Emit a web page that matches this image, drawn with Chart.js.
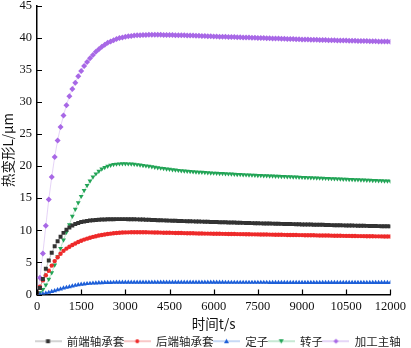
<!DOCTYPE html>
<html><head><meta charset="utf-8">
<script src="https://cdn.jsdelivr.net/npm/chart.js@4/dist/chart.umd.min.js"></script>
<style>html,body{margin:0;padding:0;background:#fff}#wrap{width:411px;height:348px}</style>
</head><body><div id="wrap"><canvas id="c" width="411" height="348"></canvas></div>
<script>
const times = [0,100,200,300,400,500,600,700,800,900,
1000,1100,1200,1300,1400,1500,1600,1700,1800,1900,
2000,2100,2200,2300,2400,2500,2600,2700,2800,2900,
3000,3100,3200,3300,3400,3500,3600,3700,3800,3900,
4000,4100,4200,4300,4400,4500,4600,4700,4800,4900,
5000,5100,5200,5300,5400,5500,5600,5700,5800,5900,
6000,6100,6200,6300,6400,6500,6600,6700,6800,6900,
7000,7100,7200,7300,7400,7500,7600,7700,7800,7900,
8000,8100,8200,8300,8400,8500,8600,8700,8800,8900,
9000,9100,9200,9300,9400,9500,9600,9700,9800,9900,
10000,10100,10200,10300,10400,10500,10600,10700,10800,10900,
11000,11100,11200,11300,11400,11500,11600,11700,11800,11900,
12000];

const seriesNames = ['前端轴承套','后端轴承套','定子','转子','加工主轴'];

const frontBearing = [0.2,1.0,2.4,4.0,5.3,6.5,7.5,8.3,9.0,9.6,
10.1,10.45,10.75,10.98,11.15,11.28,11.38,11.46,11.52,11.57,
11.61,11.64,11.67,11.69,11.71,11.72,11.73,11.74,11.74,11.74,
11.74,11.73,11.72,11.71,11.7,11.68,11.67,11.65,11.63,11.62,
11.6,11.58,11.56,11.55,11.53,11.51,11.5,11.48,11.46,11.45,
11.43,11.42,11.4,11.39,11.37,11.36,11.35,11.33,11.32,11.3,
11.29,11.28,11.26,11.25,11.24,11.22,11.21,11.2,11.19,11.17,
11.16,11.15,11.13,11.12,11.11,11.1,11.08,11.07,11.06,11.05,
11.04,11.03,11.01,11.0,10.99,10.98,10.97,10.96,10.95,10.93,
10.92,10.91,10.9,10.89,10.88,10.87,10.86,10.85,10.83,10.82,
10.81,10.8,10.79,10.78,10.77,10.76,10.75,10.74,10.73,10.72,
10.71,10.7,10.69,10.68,10.67,10.66,10.65,10.64,10.63,10.62,
10.61];

const rearBearing = [0.3,1.2,2.2,3.0,3.7,4.5,5.2,5.8,6.35,6.8,
7.15,7.45,7.7,7.95,8.17,8.37,8.55,8.7,8.85,8.97,
9.08,9.18,9.27,9.35,9.42,9.48,9.53,9.58,9.62,9.65,
9.67,9.68,9.69,9.7,9.7,9.7,9.69,9.69,9.68,9.67,
9.66,9.65,9.64,9.63,9.62,9.61,9.6,9.59,9.58,9.57,
9.56,9.55,9.54,9.53,9.52,9.51,9.5,9.49,9.49,9.48,
9.47,9.46,9.46,9.45,9.44,9.43,9.43,9.42,9.41,9.4,
9.4,9.39,9.38,9.37,9.37,9.36,9.35,9.34,9.34,9.33,
9.32,9.31,9.31,9.3,9.29,9.28,9.28,9.27,9.26,9.25,
9.25,9.24,9.23,9.22,9.22,9.21,9.2,9.19,9.19,9.18,
9.17,9.16,9.16,9.15,9.14,9.13,9.13,9.12,9.11,9.1,
9.1,9.09,9.08,9.08,9.07,9.06,9.06,9.05,9.04,9.04,
9.03];

const stator = [0,0.03,0.1,0.2,0.32,0.45,0.58,0.72,0.86,0.99,
1.1,1.21,1.31,1.41,1.5,1.57,1.63,1.68,1.72,1.76,
1.79,1.81,1.83,1.85,1.86,1.87,1.88,1.89,1.89,1.9,
1.9,1.9,1.9,1.9,1.9,1.9,1.9,1.9,1.9,1.9,
1.9,1.9,1.9,1.9,1.9,1.9,1.9,1.9,1.9,1.9,
1.9,1.89,1.89,1.89,1.89,1.89,1.89,1.89,1.89,1.89,
1.89,1.89,1.89,1.89,1.88,1.88,1.88,1.88,1.88,1.88,
1.88,1.88,1.88,1.88,1.88,1.88,1.88,1.88,1.88,1.87,
1.87,1.87,1.87,1.87,1.87,1.87,1.87,1.87,1.87,1.87,
1.87,1.87,1.87,1.87,1.87,1.87,1.86,1.86,1.86,1.86,
1.86,1.86,1.86,1.86,1.86,1.86,1.86,1.86,1.86,1.86,
1.86,1.86,1.86,1.86,1.86,1.86,1.86,1.86,1.86,1.86,
1.86];

const rotor = [0,0.3,0.8,1.5,2.4,3.4,4.6,5.9,7.2,8.5,
9.7,10.9,12.2,13.3,14.3,15.3,16.2,17.0,17.7,18.3,
18.8,19.2,19.55,19.8,20.0,20.15,20.25,20.32,20.36,20.38,
20.38,20.36,20.33,20.29,20.24,20.18,20.12,20.05,19.98,19.91,
19.84,19.77,19.7,19.63,19.57,19.51,19.45,19.4,19.35,19.3,
19.26,19.22,19.18,19.14,19.1,19.07,19.04,19.01,18.98,18.95,
18.92,18.9,18.87,18.85,18.82,18.8,18.77,18.75,18.72,18.7,
18.68,18.65,18.63,18.61,18.59,18.56,18.54,18.52,18.5,18.48,
18.46,18.44,18.42,18.4,18.38,18.36,18.34,18.32,18.3,18.28,
18.26,18.24,18.22,18.2,18.18,18.16,18.14,18.12,18.1,18.08,
18.06,18.04,18.02,18.0,17.98,17.96,17.94,17.92,17.9,17.88,
17.86,17.84,17.82,17.8,17.78,17.76,17.74,17.72,17.7,17.68,
17.66];

const spindle = [0,2.6,6.4,10.7,14.8,18.3,21.4,24.0,26.1,27.9,
29.5,30.9,32.0,33.0,34.0,34.8,35.6,36.2,36.8,37.3,
37.8,38.2,38.6,38.9,39.2,39.4,39.6,39.8,39.95,40.05,
40.15,40.22,40.28,40.33,40.37,40.4,40.42,40.44,40.45,40.45,
40.45,40.45,40.45,40.44,40.43,40.42,40.41,40.4,40.39,40.38,
40.37,40.36,40.34,40.33,40.31,40.3,40.28,40.26,40.24,40.22,
40.2,40.19,40.17,40.16,40.14,40.13,40.11,40.1,40.08,40.06,
40.05,40.03,40.02,40.0,39.98,39.97,39.95,39.94,39.92,39.91,
39.89,39.88,39.86,39.85,39.83,39.82,39.8,39.79,39.77,39.76,
39.74,39.73,39.72,39.7,39.69,39.68,39.66,39.65,39.64,39.62,
39.61,39.6,39.58,39.57,39.56,39.55,39.54,39.52,39.51,39.5,
39.49,39.48,39.47,39.46,39.45,39.44,39.43,39.42,39.41,39.4,
39.39];

const xTicks = [0,1500,3000,4500,6000,7500,9000,10500,12000];
const yTicks = [0,5,10,15,20,25,30,35,40,45];

const allSeries = [frontBearing, rearBearing, stator, rotor, spindle];
const markerColors = ['#333333','#ee2a2a','#1d5fd8','#22a456','#a868e6'];
const lineColors = ['rgba(120,120,120,0.45)','rgba(240,60,60,0.35)','rgba(40,100,220,0.3)','rgba(40,170,90,0.3)','rgba(170,110,230,0.3)'];
const iconLineColors = ['#c4c4c4','#f6b4b4','#b4cdf2','#b4e2c6','#ddc8f4'];
const pStyles = ['rect','circle','triangle','triangle','rectRot'];
const pRot = [0,0,0,180,0];
const pRad = [2.8,2.2,2.8,2.8,3];
const SERIF = '"Liberation Serif", "Times New Roman", "DejaVu Serif", serif';
const CJK = '"Noto Sans CJK SC", "Noto Sans", sans-serif';

function legendIcon(i){
  const W = 27;
  const c = document.createElement('canvas');
  c.width = W; c.height = 8;
  const g = c.getContext('2d');
  g.strokeStyle = iconLineColors[i];
  g.lineWidth = 1.5;
  g.beginPath(); g.moveTo(0,4); g.lineTo(W,4); g.stroke();
  g.fillStyle = markerColors[i];
  const cx = W/2, cy = 4;
  g.beginPath();
  if (i===0) g.rect(cx-2,cy-2,4,4);
  else if (i===1) g.arc(cx,cy,2,0,Math.PI*2);
  else if (i===2){ g.moveTo(cx,cy-2.5); g.lineTo(cx+2.5,cy+2); g.lineTo(cx-2.5,cy+2); g.closePath(); }
  else if (i===3){ g.moveTo(cx,cy+2.5); g.lineTo(cx+2.5,cy-2); g.lineTo(cx-2.5,cy-2); g.closePath(); }
  else { g.moveTo(cx,cy-2.5); g.lineTo(cx+2.5,cy); g.lineTo(cx,cy+2.5); g.lineTo(cx-2.5,cy); g.closePath(); }
  g.fill();
  return c;
}

const datasets = allSeries.map((arr,i)=>({
  label: seriesNames[i],
  data: arr.map((v,k)=>({x: times[k], y: v})),
  borderColor: lineColors[i],
  borderWidth: 1,
  backgroundColor: markerColors[i],
  pointBackgroundColor: markerColors[i],
  pointBorderColor: markerColors[i],
  pointBorderWidth: 0,
  pointStyle: pStyles[i],
  rotation: pRot[i],
  pointRadius: pRad[i],
  tension: 0,
  fill: false
}));
const icons = allSeries.map((a,i)=>legendIcon(i));

const inwardTicks = {
  id: 'inwardTicks',
  afterDraw(chart){
    const ctx = chart.ctx, ca = chart.chartArea;
    const xs = chart.scales.x, ys = chart.scales.y;
    ctx.save();
    ctx.strokeStyle = '#000'; ctx.lineWidth = 1.2;
    ctx.beginPath();
    xs.ticks.forEach(t=>{ const px = Math.round(xs.getPixelForValue(t.value))+0.5; ctx.moveTo(px, ca.bottom); ctx.lineTo(px, ca.bottom-5); });
    ys.ticks.forEach(t=>{ const py = Math.round(ys.getPixelForValue(t.value))+0.5; ctx.moveTo(ca.left, py); ctx.lineTo(ca.left+5, py); });
    ctx.stroke();
    ctx.restore();
  }
};
const legendPlace = {
  id: 'legendPlace',
  afterInit(chart){
    const lg = chart.legend;
    if (lg && !lg._wideFit){
      const orig = lg.update.bind(lg);
      lg.update = (w, h, m) => orig(Math.max(w, chart.width), h, m);
      lg._wideFit = true;
    }
  },
  beforeDraw(chart){
    const lg = chart.legend;
    const lw = lg.lineWidths && lg.lineWidths[0] ? lg.lineWidths[0] : 366;
    lg.right = chart.width;
    lg.left = 2 * 35 + lw - chart.width;
  }
};

new Chart(document.getElementById('c'), {
  type: 'line',
  data: { datasets },
  plugins: [inwardTicks, legendPlace],
  options: {
    responsive: false,
    animation: false,
    layout: { padding: { left: 0, right: 0, top: 0, bottom: -9 } },
    plugins: {
      tooltip: { enabled: false },
      legend: {
        position: 'bottom',
        labels: {
          usePointStyle: true,
          pointStyleWidth: 26,
          padding: 0,
          color: '#222',
          font: { family: CJK, size: 11.5 },
          generateLabels(chart){
            return chart.data.datasets.map((d,i)=>({
              text: d.label, pointStyle: icons[i], fillStyle: markerColors[i], strokeStyle: markerColors[i],
              lineWidth: 0, hidden: false, datasetIndex: i, fontColor: '#222'
            }));
          }
        }
      }
    },
    scales: {
      x: {
        type: 'linear', min: 0, max: 12000,
        afterBuildTicks(s){ s.ticks = xTicks.map(v=>({value:v})); },
        afterFit(s){ s.height = 41; },
        grid: { display: false, drawTicks: false },
        border: { display: true, color: '#000', width: 1.5 },
        ticks: { padding: 5, color: '#111', font: { family: SERIF, size: 12.5 }, callback: v => String(v) },
        title: { display: true, text: '时间t/s', color: '#111', padding: { top: 2, bottom: 4 },
          font: { family: CJK, size: 13.5 } }
      },
      y: {
        type: 'linear', min: 0, max: 45,
        afterBuildTicks(s){ s.ticks = yTicks.map(v=>({value:v})); },
        afterFit(s){ s.width = 37; },
        grid: { display: false, drawTicks: false },
        border: { display: true, color: '#000', width: 1.5 },
        ticks: { padding: 5, color: '#111', font: { family: SERIF, size: 12.5, lineHeight: 0.1 }, callback: v => String(v) },
        title: { display: true, text: '热变形L/μm', color: '#111', padding: { top: 0, bottom: 0 },
          font: { family: CJK, size: 13.5 } }
      }
    }
  }
});
</script></body></html>
